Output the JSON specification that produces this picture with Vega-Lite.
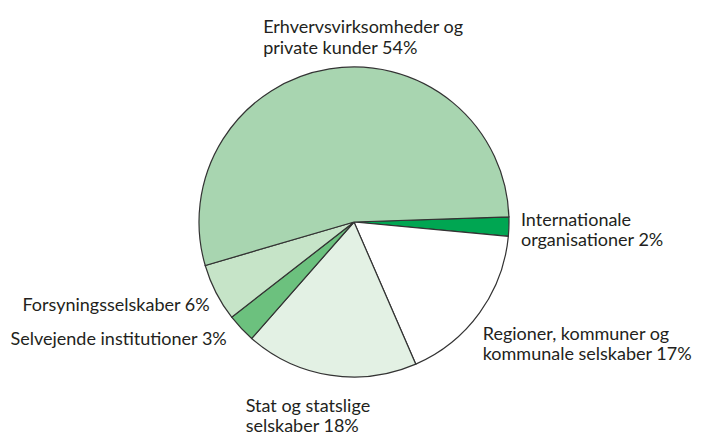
{
  "$schema": "https://vega.github.io/schema/vega-lite/v6.json",
  "width": 310,
  "height": 310,
  "autosize": {"type": "none"},
  "padding": {"left": 199, "top": 67, "right": 192, "bottom": 58},
  "background": "white",
  "config": {"view": {"stroke": null}, "text": {"font": "Lato"}},
  "data": {
    "values": [
      {"i": 1, "name": "Internationale organisationer", "pct": 2, "label": "Internationale\norganisationer 2%"},
      {"i": 2, "name": "Regioner", "pct": 17, "label": "Regioner, kommuner og\nkommunale selskaber 17%"},
      {"i": 3, "name": "Stat", "pct": 18, "label": "Stat og statslige\nselskaber 18%"},
      {"i": 4, "name": "Selvejende", "pct": 3, "label": "Selvejende institutioner 3%"},
      {"i": 5, "name": "Forsyning", "pct": 6, "label": "Forsyningsselskaber 6%"},
      {"i": 6, "name": "Erhverv", "pct": 54, "label": "Erhvervsvirksomheder og\nprivate kunder 54%"}
    ]
  },
  "encoding": {
    "theta": {"field": "pct", "type": "quantitative", "stack": true, "scale": {"range": [1.5377, 7.8209]}},
    "order": {"field": "i", "type": "quantitative"}
  },
  "layer": [
    {
      "mark": {"type": "arc", "stroke": "#333333", "strokeWidth": 1.2},
      "encoding": {
        "color": {
          "field": "name", "type": "nominal", "legend": null,
          "scale": {
            "domain": ["Internationale organisationer", "Regioner", "Stat", "Selvejende", "Forsyning", "Erhverv"],
            "range": ["#00a652", "#ffffff", "#e3f1e4", "#6cc17e", "#c6e4c8", "#a8d5b0"]
          }
        }
      }
    },
    {
      "mark": {"type": "text", "radius": 170, "align": "left", "baseline": "alphabetic", "fontSize": 18, "lineHeight": 20, "lineBreak": "\n", "color": "#231f20", "dx": -3, "dy": -1},
      "encoding": {"text": {"condition": {"test": "datum.i === 1", "field": "label"}, "value": ""}}
    },
    {
      "mark": {"type": "text", "radius": 170, "align": "left", "baseline": "alphabetic", "fontSize": 18, "lineHeight": 20, "lineBreak": "\n", "color": "#231f20", "dx": -9, "dy": 18.5},
      "encoding": {"text": {"condition": {"test": "datum.i === 2", "field": "label"}, "value": ""}}
    },
    {
      "mark": {"type": "text", "radius": 170, "align": "left", "baseline": "alphabetic", "fontSize": 18, "lineHeight": 20, "lineBreak": "\n", "color": "#231f20", "dx": -82, "dy": 22},
      "encoding": {"text": {"condition": {"test": "datum.i === 3", "field": "label"}, "value": ""}}
    },
    {
      "mark": {"type": "text", "radius": 170, "align": "right", "baseline": "alphabetic", "fontSize": 18, "lineHeight": 20, "lineBreak": "\n", "color": "#231f20", "dx": -3.5, "dy": 6},
      "encoding": {"text": {"condition": {"test": "datum.i === 4", "field": "label"}, "value": ""}}
    },
    {
      "mark": {"type": "text", "radius": 170, "align": "right", "baseline": "alphabetic", "fontSize": 18, "lineHeight": 20, "lineBreak": "\n", "color": "#231f20", "dx": 7, "dy": 12},
      "encoding": {"text": {"condition": {"test": "datum.i === 5", "field": "label"}, "value": ""}}
    },
    {
      "mark": {"type": "text", "radius": 170, "align": "left", "baseline": "alphabetic", "fontSize": 18, "lineHeight": 21, "lineBreak": "\n", "color": "#231f20", "dx": -64, "dy": -21},
      "encoding": {"text": {"condition": {"test": "datum.i === 6", "field": "label"}, "value": ""}}
    }
  ]
}
